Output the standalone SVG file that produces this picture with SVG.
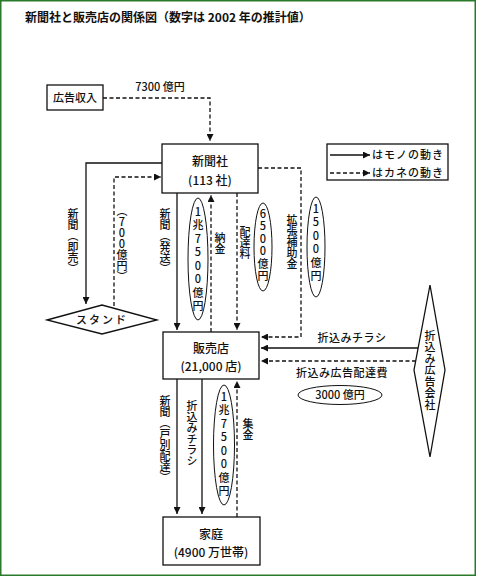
<svg xmlns="http://www.w3.org/2000/svg" width="480" height="576" viewBox="0 0 480 576">
<defs>
<marker id="ah" viewBox="0 0 10 10" refX="10" refY="5" markerWidth="7" markerHeight="7" markerUnits="userSpaceOnUse" orient="auto"><path d="M0,0 L10,5 L0,10 z" fill="#111"/></marker>
<style>
text{font-family:"Noto Sans CJK JP","Noto Sans",sans-serif;fill:#111;font-weight:500;}
.box{fill:#fff;stroke:#111;stroke-width:1.3;}
.sh{fill:#fff;stroke:#111;stroke-width:1;}
.solid{fill:none;stroke:#111;stroke-width:1.3;}
.dash{fill:none;stroke:#111;stroke-width:1.3;stroke-dasharray:4,2.5;}
.c{font-size:11px;text-anchor:middle;}
.b{font-size:12px;text-anchor:middle;}
.v{font-size:11px;writing-mode:vertical-rl;text-orientation:upright;}
</style>
</defs>
<rect x="0.75" y="0.75" width="474.5" height="574.5" fill="#fff" stroke="#2b7a2b" stroke-width="1.5"/>
<text x="25" y="22" style="font-size:12px;font-weight:bold;">新聞社と販売店の関係図（数字は 2002 年の推計値）</text>

<g id="connectors">
<path class="dash" d="M103,98 H210 V141" marker-end="url(#ah)"/>
<text class="c" x="160" y="91">7300 億円</text>
<path class="solid" d="M162,163 H86 V304" marker-end="url(#ah)"/>
<path class="dash" d="M114,306 V177 H161" marker-end="url(#ah)"/>
<path class="solid" d="M177,193 V330" marker-end="url(#ah)"/>
<path class="dash" d="M211,332 V195" marker-end="url(#ah)"/>
<path class="dash" d="M237,193 V330" marker-end="url(#ah)"/>
<path class="dash" d="M258,168 H301 V337 H261" marker-end="url(#ah)"/>
<path class="solid" d="M418,348 H261" marker-end="url(#ah)"/>
<path class="dash" d="M416,361 H261" marker-end="url(#ah)"/>
<path class="solid" d="M177,379 V514" marker-end="url(#ah)"/>
<path class="solid" d="M202,379 V514" marker-end="url(#ah)"/>
<path class="dash" d="M237,517 V381" marker-end="url(#ah)"/>
<text class="v" x="73" y="208">新聞（即売）</text>
<text class="v" x="122" y="205">（700億円）</text>
<text class="v" x="165" y="208">新聞（発送）</text>
<ellipse class="sh" cx="198" cy="259" rx="10" ry="61"/>
<text class="v" x="198" y="206" style="letter-spacing:2.5px">1兆7500億円</text>
<text class="v" x="220" y="232">納金</text>
<text class="v" x="245" y="226">配達料</text>
<ellipse class="sh" cx="263" cy="247" rx="9" ry="44"/>
<text class="v" x="263" y="208" style="letter-spacing:1.5px">6500億円</text>
<text class="v" x="292" y="214">拡張補助金</text>
<ellipse class="sh" cx="316" cy="247" rx="9" ry="50"/>
<text class="v" x="316" y="203" style="letter-spacing:2.5px">1500億円</text>
<text class="c" x="352" y="342" style="letter-spacing:0.5px">折込みチラシ</text>
<text class="c" x="342" y="377" style="letter-spacing:0.5px">折込み広告配達費</text>
<ellipse class="sh" cx="340" cy="395" rx="42" ry="9.5"/>
<text class="c" x="340" y="399">3000 億円</text>
<text class="v" x="165" y="395">新聞（戸別配達）</text>
<text class="v" x="192" y="400">折込みチラシ</text>
<ellipse class="sh" cx="224" cy="445" rx="10.5" ry="60"/>
<text class="v" x="224" y="391" style="letter-spacing:2.5px">1兆7500億円</text>
<text class="v" x="248" y="418">集金</text>
</g>

<g id="koukoku">
<rect class="box" x="47" y="85" width="56" height="25"/>
<text class="c" x="75" y="102">広告収入</text>
</g>
<g id="shinbunsha">
<rect class="box" x="162" y="144" width="96" height="49"/>
<text class="b" x="210" y="166">新聞社</text>
<text class="b" x="210" y="185">(113 社)</text>
</g>
<g id="stand">
<polygon class="box" points="47,320 102,305 157,320 102,334"/>
<text class="c" x="102" y="324" style="letter-spacing:2px">スタンド</text>
</g>
<g id="hanbaiten">
<rect class="box" x="163" y="332" width="96" height="47"/>
<text class="b" x="211" y="353">販売店</text>
<text class="b" x="211" y="371">(21,000 店)</text>
</g>
<g id="orikomi">
<polygon class="box" points="430,285 445,370 430,457 414,370"/>
<text class="v" x="430" y="330" style="letter-spacing:0.5px">折込み広告会社</text>
</g>
<g id="katei">
<rect class="box" x="163" y="517" width="97" height="48"/>
<text class="b" x="211" y="539">家庭</text>
<text class="b" x="211" y="557">(4900 万世帯)</text>
</g>
<g id="legend">
<rect class="box" x="327" y="144" width="121" height="36"/>
<path class="solid" d="M330,155 H370" marker-end="url(#ah)"/>
<path class="dash" d="M330,173 H370" marker-end="url(#ah)"/>
<text x="372" y="159" style="font-size:11px;letter-spacing:1px">はモノの動き</text>
<text x="372" y="177" style="font-size:11px;letter-spacing:1px">はカネの動き</text>
</g>
</svg>
